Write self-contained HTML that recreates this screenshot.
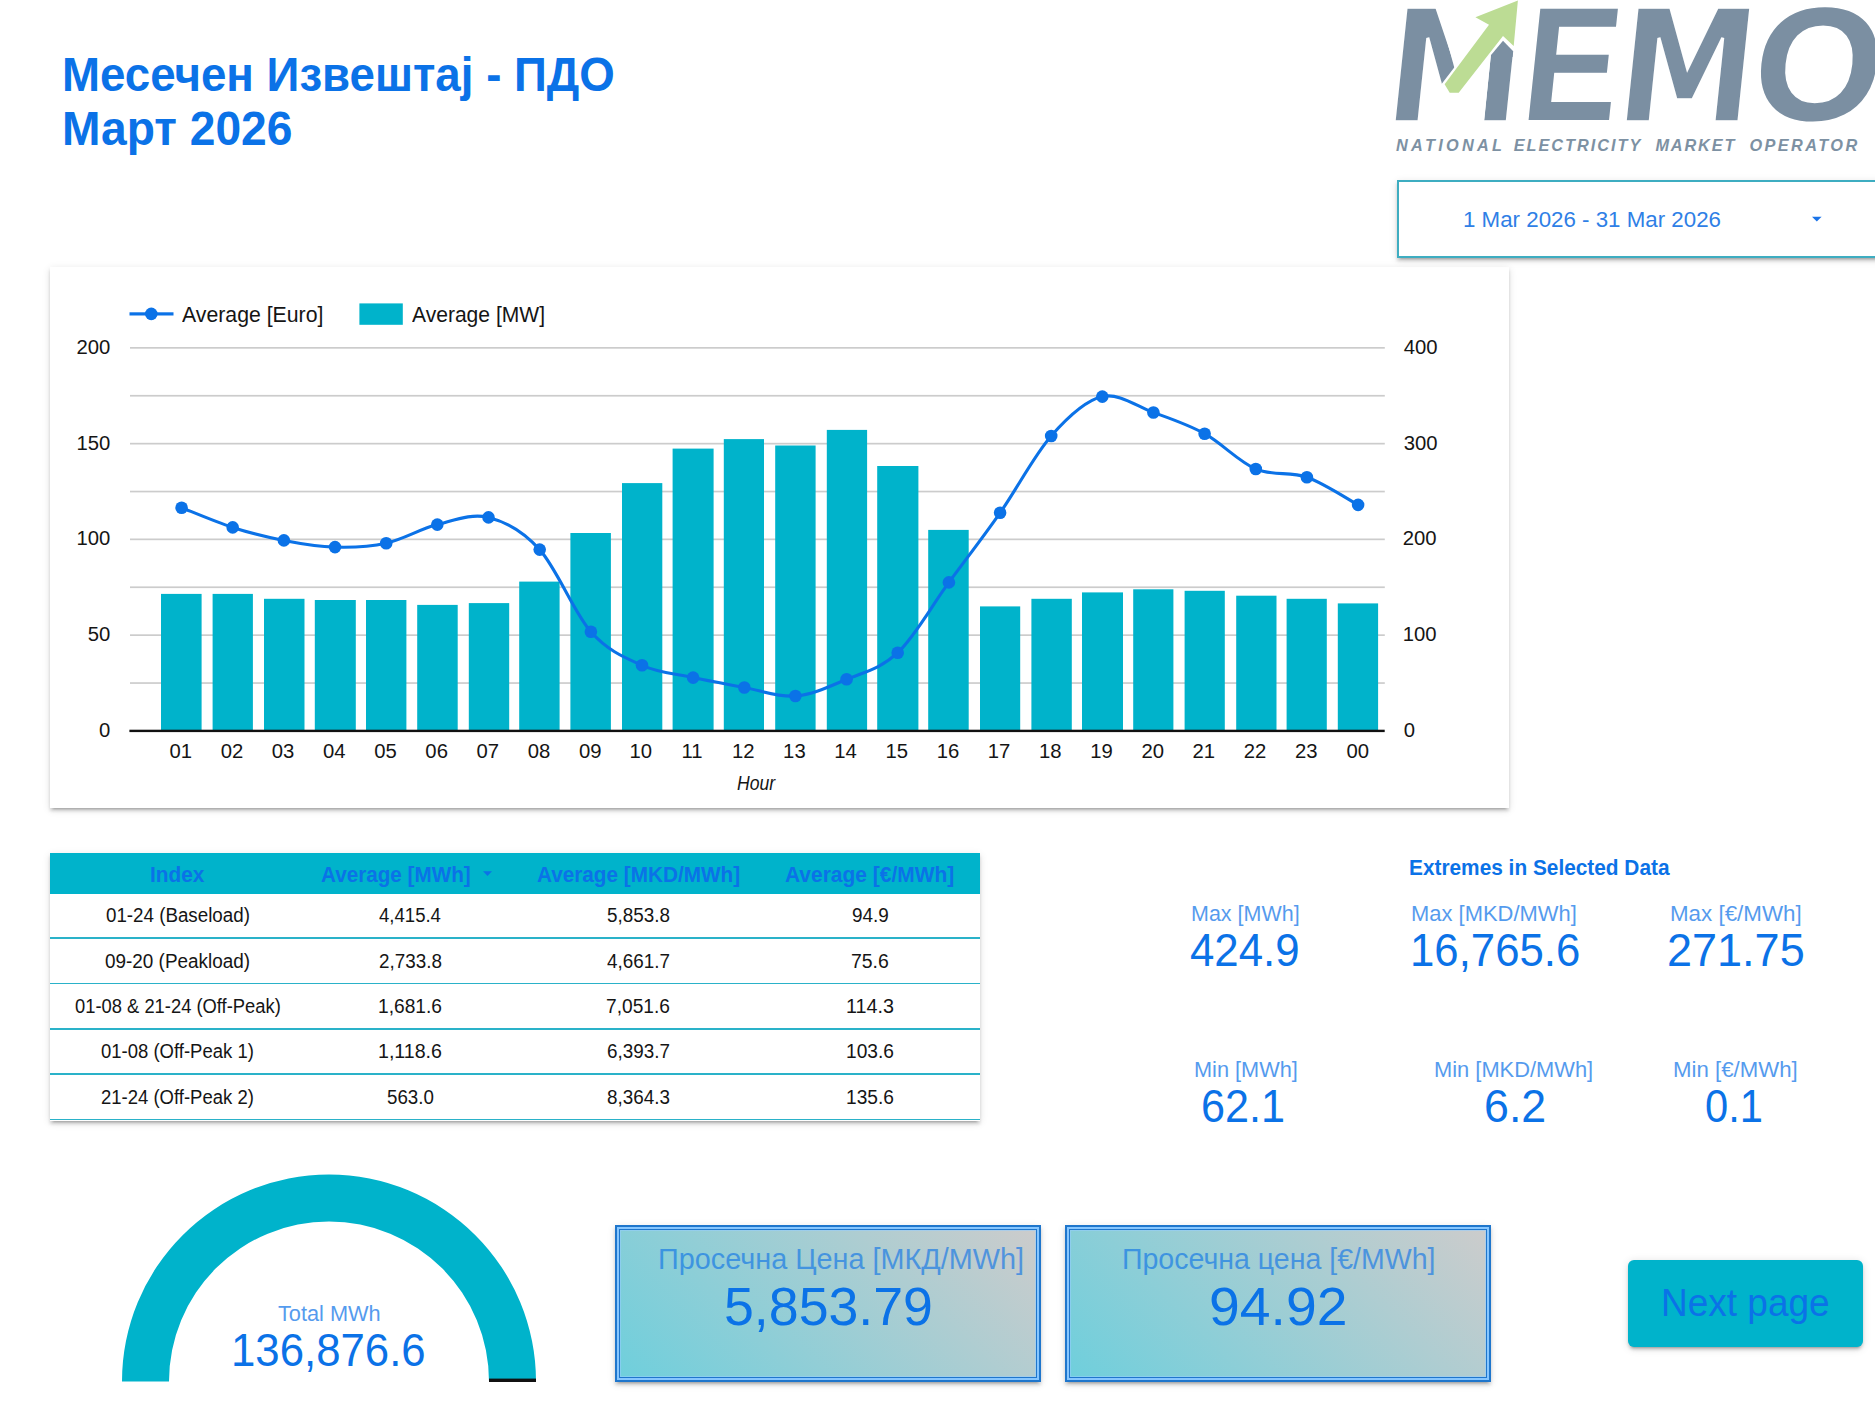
<!DOCTYPE html><html lang="mk"><head><meta charset="utf-8"><title>Месечен Извештај - ПДО</title><style>
html,body{margin:0;padding:0;background:#fff}
body{width:1875px;height:1407px;position:relative;overflow:hidden;font-family:"Liberation Sans",sans-serif}
.abs{position:absolute}
.t{position:absolute;white-space:nowrap;line-height:1;transform-origin:0 0}
.card{position:absolute;background:#fff;box-shadow:0 3px 3px 0 rgba(0,0,0,.14),0 4px 2px -3px rgba(0,0,0,.2),0 1.5px 8px 0 rgba(0,0,0,.12)}
.row{position:absolute;left:0;width:930px;height:1.7px;background:#2ab2c9}
.sc{position:absolute;box-sizing:border-box;border:2px solid #1f76cc;background:#86c6ff;box-shadow:0 3px 3px 0 rgba(0,0,0,.14),0 4px 2px -3px rgba(0,0,0,.2),0 1.5px 8px 0 rgba(0,0,0,.12)}
.sc i{position:absolute;left:1.8px;top:1.8px;right:1.8px;bottom:1.8px;border:1.2px solid #1f76cc;display:block;background:linear-gradient(45deg,#6fcfdc 0%,#cccccc 100%);box-shadow:inset 0 0 0 1px rgba(150,205,255,.55)}
</style></head><body>
<div class="card" style="left:49.7px;top:267px;width:1459.5px;height:541px"></div>
<svg class="abs" style="left:0;top:0" width="1875" height="1407" viewBox="0 0 1875 1407">
<rect x="130" y="682.2" width="1254.8" height="1.7" fill="#cccccc"/>
<rect x="130" y="634.3" width="1254.8" height="1.7" fill="#cccccc"/>
<rect x="130" y="586.4" width="1254.8" height="1.7" fill="#cccccc"/>
<rect x="130" y="538.5" width="1254.8" height="1.7" fill="#cccccc"/>
<rect x="130" y="490.7" width="1254.8" height="1.7" fill="#cccccc"/>
<rect x="130" y="442.8" width="1254.8" height="1.7" fill="#cccccc"/>
<rect x="130" y="394.9" width="1254.8" height="1.7" fill="#cccccc"/>
<rect x="130" y="347.0" width="1254.8" height="1.7" fill="#cccccc"/>
<rect x="161.0" y="593.9" width="40.6" height="137.0" fill="#00b3cb"/>
<rect x="212.6" y="593.9" width="40.3" height="137.0" fill="#00b3cb"/>
<rect x="264.0" y="598.8" width="40.5" height="132.1" fill="#00b3cb"/>
<rect x="314.8" y="600.0" width="41.0" height="130.9" fill="#00b3cb"/>
<rect x="366.0" y="600.0" width="40.4" height="130.9" fill="#00b3cb"/>
<rect x="417.2" y="604.9" width="40.5" height="126.0" fill="#00b3cb"/>
<rect x="468.8" y="603.1" width="40.4" height="127.8" fill="#00b3cb"/>
<rect x="519.2" y="581.6" width="40.4" height="149.3" fill="#00b3cb"/>
<rect x="570.4" y="533.0" width="40.5" height="197.9" fill="#00b3cb"/>
<rect x="622.0" y="483.1" width="40.3" height="247.8" fill="#00b3cb"/>
<rect x="672.6" y="448.6" width="41.0" height="282.3" fill="#00b3cb"/>
<rect x="723.8" y="439.1" width="40.2" height="291.8" fill="#00b3cb"/>
<rect x="775.2" y="445.5" width="40.4" height="285.4" fill="#00b3cb"/>
<rect x="826.8" y="429.9" width="40.3" height="301.0" fill="#00b3cb"/>
<rect x="877.2" y="466.0" width="41.2" height="264.9" fill="#00b3cb"/>
<rect x="928.2" y="529.9" width="40.5" height="201.0" fill="#00b3cb"/>
<rect x="980.0" y="606.4" width="40.2" height="124.5" fill="#00b3cb"/>
<rect x="1031.4" y="598.8" width="40.4" height="132.1" fill="#00b3cb"/>
<rect x="1082.0" y="592.4" width="41.0" height="138.5" fill="#00b3cb"/>
<rect x="1133.2" y="589.3" width="40.2" height="141.6" fill="#00b3cb"/>
<rect x="1184.6" y="590.8" width="40.2" height="140.1" fill="#00b3cb"/>
<rect x="1236.2" y="595.7" width="40.3" height="135.2" fill="#00b3cb"/>
<rect x="1286.6" y="598.8" width="40.2" height="132.1" fill="#00b3cb"/>
<rect x="1337.8" y="603.4" width="40.3" height="127.5" fill="#00b3cb"/>
<rect x="129.4" y="729.7" width="1255.3" height="2.4" fill="#111"/>
<path d="M181.6 507.7 C190.1 511.0 215.6 521.9 232.7 527.4 C249.8 532.9 266.8 537.1 283.9 540.4 C300.9 543.7 317.9 546.6 335.0 547.1 C352.1 547.6 369.1 547.0 386.2 543.2 C403.2 539.5 420.2 528.9 437.3 524.6 C454.4 520.3 471.4 513.2 488.5 517.4 C505.6 521.6 522.6 530.5 539.7 549.6 C556.8 568.7 573.9 612.5 590.9 631.8 C607.9 651.1 625.0 657.7 642.0 665.3 C659.0 672.9 676.1 673.9 693.1 677.6 C710.1 681.3 727.2 684.4 744.3 687.5 C761.3 690.6 778.3 697.4 795.4 696.0 C812.5 694.6 829.5 686.5 846.6 679.3 C863.7 672.1 880.7 668.9 897.7 652.7 C914.8 636.6 931.8 605.7 948.9 582.4 C966.0 559.1 983.0 537.2 1000.1 512.8 C1017.2 488.4 1034.2 455.4 1051.2 436.0 C1068.2 416.6 1085.3 400.5 1102.3 396.6 C1119.3 392.7 1136.4 406.3 1153.4 412.5 C1170.5 418.7 1187.5 424.3 1204.6 433.7 C1221.7 443.1 1238.8 461.8 1255.8 469.0 C1272.8 476.2 1289.9 471.2 1306.9 477.2 C1324.0 483.2 1349.6 500.3 1358.1 504.9" fill="none" stroke="#0b72e7" stroke-width="3.1" stroke-linejoin="round"/>
<circle cx="181.6" cy="507.7" r="6.3" fill="#0b72e7"/>
<circle cx="232.7" cy="527.4" r="6.3" fill="#0b72e7"/>
<circle cx="283.9" cy="540.4" r="6.3" fill="#0b72e7"/>
<circle cx="335.0" cy="547.1" r="6.3" fill="#0b72e7"/>
<circle cx="386.2" cy="543.2" r="6.3" fill="#0b72e7"/>
<circle cx="437.3" cy="524.6" r="6.3" fill="#0b72e7"/>
<circle cx="488.5" cy="517.4" r="6.3" fill="#0b72e7"/>
<circle cx="539.7" cy="549.6" r="6.3" fill="#0b72e7"/>
<circle cx="590.9" cy="631.8" r="6.3" fill="#0b72e7"/>
<circle cx="642.0" cy="665.3" r="6.3" fill="#0b72e7"/>
<circle cx="693.1" cy="677.6" r="6.3" fill="#0b72e7"/>
<circle cx="744.3" cy="687.5" r="6.3" fill="#0b72e7"/>
<circle cx="795.4" cy="696.0" r="6.3" fill="#0b72e7"/>
<circle cx="846.6" cy="679.3" r="6.3" fill="#0b72e7"/>
<circle cx="897.7" cy="652.7" r="6.3" fill="#0b72e7"/>
<circle cx="948.9" cy="582.4" r="6.3" fill="#0b72e7"/>
<circle cx="1000.1" cy="512.8" r="6.3" fill="#0b72e7"/>
<circle cx="1051.2" cy="436.0" r="6.3" fill="#0b72e7"/>
<circle cx="1102.3" cy="396.6" r="6.3" fill="#0b72e7"/>
<circle cx="1153.4" cy="412.5" r="6.3" fill="#0b72e7"/>
<circle cx="1204.6" cy="433.7" r="6.3" fill="#0b72e7"/>
<circle cx="1255.8" cy="469.0" r="6.3" fill="#0b72e7"/>
<circle cx="1306.9" cy="477.2" r="6.3" fill="#0b72e7"/>
<circle cx="1358.1" cy="504.9" r="6.3" fill="#0b72e7"/>
<rect x="129.5" y="312.3" width="44" height="3.2" fill="#0b72e7"/><circle cx="151.3" cy="313.9" r="6.3" fill="#0b72e7"/>
<rect x="359.4" y="303.4" width="43.4" height="21.4" fill="#00b3cb"/>
</svg>
<div class="abs" style="left:1396.7px;top:179.9px;width:500px;height:77.9px;box-sizing:border-box;border:2px solid #3eadc1;background:#fff;box-shadow:0 3px 3px 0 rgba(0,0,0,.14),0 4px 2px -3px rgba(0,0,0,.2),0 1.5px 8px 0 rgba(0,0,0,.12)"></div>
<svg class="abs" style="left:1811px;top:216px" width="12" height="7" viewBox="0 0 12 7"><polygon points="1,0.8 10.6,0.8 5.8,5.6" fill="#1a73e8"/></svg>
<svg class="abs" style="left:1385px;top:0" width="490" height="170" viewBox="1385 0 490 170">
<g id="logoletters" fill="#7b8fa2" font-family='"Liberation Sans", sans-serif' font-weight="bold">
<text transform="translate(1393.6 122.2) skewX(-6) scale(0.8845 1)" x="-14.00" y="0" font-size="157.75" font-family="'DejaVu Sans', sans-serif" stroke="#fff" stroke-width="3.2" vector-effect="non-scaling-stroke">M</text>
<text transform="translate(1527.9 119.7) skewX(-6) scale(0.8870 1)" x="-10.00" y="0" font-size="161.63" font-family="'Liberation Sans', sans-serif">E</text>
<text transform="translate(1624.8 122.2) skewX(-6) scale(0.8891 1)" x="-14.00" y="0" font-size="157.75" font-family="'DejaVu Sans', sans-serif" stroke="#fff" stroke-width="3.2" vector-effect="non-scaling-stroke">M</text>
<text transform="translate(1755.0 119.7) skewX(-6) scale(1.0265 1)" x="-6.00" y="0" font-size="161.63" font-family="'Liberation Sans', sans-serif">O</text>
</g>
<polygon points="1455,66.5 1442,83.5 1438,99 1468,99 1468,122 1484.1,122 1490.8,55 1514.8,51.5 1521,-2 1432,-2" fill="#fff"/>
<polygon points="1503,40.7 1513.2,51.3 1512.6,57 1491,57 1491.3,54.7" fill="#7b8fa2"/>
<polygon points="1517.9,0.4 1475.4,17.3 1489,24.7 1444.6,84.3 1449.7,92.7 1458.7,92.7 1503,36 1513.7,46" fill="#bcdc94"/>
</svg>
<div class="card" style="left:50px;top:853px;width:930px;height:268px">
<div class="abs" style="left:0;top:0;width:930px;height:40.7px;background:#00b3cb"></div>
<div class="row" style="top:84.4px"></div>
<div class="row" style="top:129.7px"></div>
<div class="row" style="top:175.0px"></div>
<div class="row" style="top:220.3px"></div>
<div class="row" style="top:265.6px"></div>
</div>
<svg class="abs" style="left:482px;top:870px" width="12" height="8" viewBox="0 0 12 8"><polygon points="1,1.3 10,1.3 5.5,6" fill="#0b72e7"/></svg>
<svg class="abs" style="left:0;top:1150px" width="700" height="257" viewBox="0 1150 700 257"><path d="M122.0 1381.5 A207 207 0 0 1 536.0 1381.5 L489.0 1381.5 A160 160 0 0 0 169.0 1381.5 Z" fill="#00b3cb"/><rect x="489" y="1378.6" width="47" height="3.4" fill="#111"/></svg>
<div class="sc" style="left:615px;top:1225px;width:426px;height:156.8px"><i></i></div>
<div class="sc" style="left:1065px;top:1225px;width:426px;height:156.8px"><i></i></div>
<div class="abs" style="left:1628px;top:1259.7px;width:234.7px;height:87.5px;border-radius:6px;background:#00b3cb;box-shadow:0 3px 3px 0 rgba(0,0,0,.14),0 4px 2px -3px rgba(0,0,0,.2),0 1.5px 8px 0 rgba(0,0,0,.12)"></div>
<div class="t" id="t0" style="left:62.37px;top:50.10px;font-size:48.40px;color:#0b72e7;font-weight:bold;transform:scaleX(0.9434)">Месечен Извештај - ПДО</div>
<div class="t" id="t1" style="left:62.34px;top:103.90px;font-size:48.40px;color:#0b72e7;font-weight:bold;transform:scaleX(0.9541)">Март 2026</div>
<div class="t" id="t2" style="left:1462.89px;top:208.50px;font-size:22.20px;color:#2f7fe6;transform:scaleX(1.0055)">1 Mar 2026 - 31 Mar 2026</div>
<div class="t" id="t3" style="left:181.50px;top:303.70px;font-size:22.20px;color:#151515;transform:scaleX(0.9581)">Average [Euro]</div>
<div class="t" id="t4" style="left:411.70px;top:303.70px;font-size:22.20px;color:#151515;transform:scaleX(0.9490)">Average [MW]</div>
<div class="t" id="t5" style="left:99.00px;top:719.80px;font-size:20.30px;color:#151515">0</div>
<div class="t" id="t6" style="left:87.72px;top:624.05px;font-size:20.30px;color:#151515">50</div>
<div class="t" id="t7" style="left:76.44px;top:528.30px;font-size:20.30px;color:#151515">100</div>
<div class="t" id="t8" style="left:76.44px;top:432.55px;font-size:20.30px;color:#151515">150</div>
<div class="t" id="t9" style="left:76.44px;top:336.80px;font-size:20.30px;color:#151515">200</div>
<div class="t" id="t10" style="left:1403.70px;top:719.80px;font-size:20.30px;color:#151515">0</div>
<div class="t" id="t11" style="left:1402.70px;top:624.05px;font-size:20.30px;color:#151515">100</div>
<div class="t" id="t12" style="left:1402.70px;top:528.30px;font-size:20.30px;color:#151515">200</div>
<div class="t" id="t13" style="left:1403.70px;top:432.55px;font-size:20.30px;color:#151515">300</div>
<div class="t" id="t14" style="left:1403.70px;top:336.80px;font-size:20.30px;color:#151515">400</div>
<div class="t" id="t15" style="left:169.46px;top:740.80px;font-size:20.30px;color:#151515">01</div>
<div class="t" id="t16" style="left:220.64px;top:740.80px;font-size:20.30px;color:#151515">02</div>
<div class="t" id="t17" style="left:271.82px;top:740.80px;font-size:20.30px;color:#151515">03</div>
<div class="t" id="t18" style="left:323.00px;top:740.80px;font-size:20.30px;color:#151515">04</div>
<div class="t" id="t19" style="left:374.18px;top:740.80px;font-size:20.30px;color:#151515">05</div>
<div class="t" id="t20" style="left:425.36px;top:740.80px;font-size:20.30px;color:#151515">06</div>
<div class="t" id="t21" style="left:476.54px;top:740.80px;font-size:20.30px;color:#151515">07</div>
<div class="t" id="t22" style="left:527.72px;top:740.80px;font-size:20.30px;color:#151515">08</div>
<div class="t" id="t23" style="left:578.90px;top:740.80px;font-size:20.30px;color:#151515">09</div>
<div class="t" id="t24" style="left:629.58px;top:740.80px;font-size:20.30px;color:#151515">10</div>
<div class="t" id="t25" style="left:681.51px;top:740.80px;font-size:20.30px;color:#151515">11</div>
<div class="t" id="t26" style="left:731.94px;top:740.80px;font-size:20.30px;color:#151515">12</div>
<div class="t" id="t27" style="left:783.12px;top:740.80px;font-size:20.30px;color:#151515">13</div>
<div class="t" id="t28" style="left:834.30px;top:740.80px;font-size:20.30px;color:#151515">14</div>
<div class="t" id="t29" style="left:885.48px;top:740.80px;font-size:20.30px;color:#151515">15</div>
<div class="t" id="t30" style="left:936.66px;top:740.80px;font-size:20.30px;color:#151515">16</div>
<div class="t" id="t31" style="left:987.84px;top:740.80px;font-size:20.30px;color:#151515">17</div>
<div class="t" id="t32" style="left:1039.02px;top:740.80px;font-size:20.30px;color:#151515">18</div>
<div class="t" id="t33" style="left:1090.20px;top:740.80px;font-size:20.30px;color:#151515">19</div>
<div class="t" id="t34" style="left:1141.38px;top:740.80px;font-size:20.30px;color:#151515">20</div>
<div class="t" id="t35" style="left:1192.56px;top:740.80px;font-size:20.30px;color:#151515">21</div>
<div class="t" id="t36" style="left:1243.74px;top:740.80px;font-size:20.30px;color:#151515">22</div>
<div class="t" id="t37" style="left:1294.92px;top:740.80px;font-size:20.30px;color:#151515">23</div>
<div class="t" id="t38" style="left:1346.60px;top:740.80px;font-size:20.30px;color:#151515">00</div>
<div class="t" id="t39" style="left:737.20px;top:772.80px;font-size:20.30px;color:#151515;font-style:italic;transform:scaleX(0.8672)">Hour</div>
<div class="t" id="t40" style="left:149.77px;top:864.20px;font-size:22.40px;color:#0b72e7;font-weight:bold;transform:scaleX(0.9306)">Index</div>
<div class="t" id="t41" style="left:321.40px;top:864.20px;font-size:22.40px;color:#0b72e7;font-weight:bold;transform:scaleX(0.9234)">Average [MWh]</div>
<div class="t" id="t42" style="left:536.50px;top:864.20px;font-size:22.40px;color:#0b72e7;font-weight:bold;transform:scaleX(0.9260)">Average [MKD/MWh]</div>
<div class="t" id="t43" style="left:785.30px;top:864.20px;font-size:22.40px;color:#0b72e7;font-weight:bold;transform:scaleX(0.9359)">Average [€/MWh]</div>
<div class="t" id="t44" style="left:106.00px;top:905.70px;font-size:19.50px;color:#151515;transform:scaleX(0.9618)">01-24 (Baseload)</div>
<div class="t" id="t45" style="left:379.25px;top:905.70px;font-size:19.50px;color:#151515;transform:scaleX(0.9522)">4,415.4</div>
<div class="t" id="t46" style="left:607.05px;top:905.70px;font-size:19.50px;color:#151515;transform:scaleX(0.9671)">5,853.8</div>
<div class="t" id="t47" style="left:851.90px;top:905.70px;font-size:19.50px;color:#151515;transform:scaleX(0.9701)">94.9</div>
<div class="t" id="t48" style="left:105.30px;top:951.70px;font-size:19.50px;color:#151515;transform:scaleX(0.9698)">09-20 (Peakload)</div>
<div class="t" id="t49" style="left:379.25px;top:951.70px;font-size:19.50px;color:#151515;transform:scaleX(0.9671)">2,733.8</div>
<div class="t" id="t50" style="left:607.05px;top:951.70px;font-size:19.50px;color:#151515;transform:scaleX(0.9671)">4,661.7</div>
<div class="t" id="t51" style="left:850.90px;top:951.70px;font-size:19.50px;color:#151515;transform:scaleX(0.9970)">75.6</div>
<div class="t" id="t52" style="left:74.60px;top:996.90px;font-size:19.50px;color:#151515;transform:scaleX(0.9413)">01-08 &amp; 21-24 (Off-Peak)</div>
<div class="t" id="t53" style="left:378.27px;top:996.90px;font-size:19.50px;color:#151515;transform:scaleX(0.9824)">1,681.6</div>
<div class="t" id="t54" style="left:606.07px;top:996.90px;font-size:19.50px;color:#151515;transform:scaleX(0.9824)">7,051.6</div>
<div class="t" id="t55" style="left:845.84px;top:996.90px;font-size:19.50px;color:#151515;transform:scaleX(1.0131)">114.3</div>
<div class="t" id="t56" style="left:101.40px;top:1041.90px;font-size:19.50px;color:#151515;transform:scaleX(0.9487)">01-08 (Off-Peak 1)</div>
<div class="t" id="t57" style="left:378.24px;top:1041.90px;font-size:19.50px;color:#151515;transform:scaleX(1.0054)">1,118.6</div>
<div class="t" id="t58" style="left:607.05px;top:1041.90px;font-size:19.50px;color:#151515;transform:scaleX(0.9671)">6,393.7</div>
<div class="t" id="t59" style="left:845.87px;top:1041.90px;font-size:19.50px;color:#151515;transform:scaleX(0.9818)">103.6</div>
<div class="t" id="t60" style="left:101.40px;top:1087.90px;font-size:19.50px;color:#151515;transform:scaleX(0.9487)">21-24 (Off-Peak 2)</div>
<div class="t" id="t61" style="left:386.80px;top:1087.90px;font-size:19.50px;color:#151515;transform:scaleX(0.9601)">563.0</div>
<div class="t" id="t62" style="left:607.05px;top:1087.90px;font-size:19.50px;color:#151515;transform:scaleX(0.9671)">8,364.3</div>
<div class="t" id="t63" style="left:845.87px;top:1087.90px;font-size:19.50px;color:#151515;transform:scaleX(0.9818)">135.6</div>
<div class="t" id="t64" style="left:1408.97px;top:857.20px;font-size:22.40px;color:#0b72e7;font-weight:bold;transform:scaleX(0.9304)">Extremes in Selected Data</div>
<div class="t" id="t65" style="left:1191.03px;top:902.70px;font-size:22.20px;color:#0b72e7;opacity:0.7;transform:scaleX(0.9681)">Max [MWh]</div>
<div class="t" id="t66" style="left:1190.03px;top:927.60px;font-size:45.30px;color:#0b72e7;transform:scaleX(0.9671)">424.9</div>
<div class="t" id="t67" style="left:1410.81px;top:902.70px;font-size:22.20px;color:#0b72e7;opacity:0.7;transform:scaleX(0.9887)">Max [MKD/MWh]</div>
<div class="t" id="t68" style="left:1410.10px;top:927.60px;font-size:45.30px;color:#0b72e7;transform:scaleX(0.9656)">16,765.6</div>
<div class="t" id="t69" style="left:1669.89px;top:902.70px;font-size:22.20px;color:#0b72e7;opacity:0.7;transform:scaleX(1.0077)">Max [€/MWh]</div>
<div class="t" id="t70" style="left:1667.01px;top:927.60px;font-size:45.30px;color:#0b72e7;transform:scaleX(0.9937)">271.75</div>
<div class="t" id="t71" style="left:1193.52px;top:1058.60px;font-size:22.20px;color:#0b72e7;opacity:0.7;transform:scaleX(0.9794)">Min [MWh]</div>
<div class="t" id="t72" style="left:1201.49px;top:1084.00px;font-size:45.30px;color:#0b72e7;transform:scaleX(0.9527)">62.1</div>
<div class="t" id="t73" style="left:1434.01px;top:1058.60px;font-size:22.20px;color:#0b72e7;opacity:0.7;transform:scaleX(0.9855)">Min [MKD/MWh]</div>
<div class="t" id="t74" style="left:1483.62px;top:1084.00px;font-size:45.30px;color:#0b72e7;transform:scaleX(0.9885)">6.2</div>
<div class="t" id="t75" style="left:1673.00px;top:1058.60px;font-size:22.20px;color:#0b72e7;opacity:0.7;transform:scaleX(1.0012)">Min [€/MWh]</div>
<div class="t" id="t76" style="left:1705.08px;top:1084.00px;font-size:45.30px;color:#0b72e7;transform:scaleX(0.9201)">0.1</div>
<div class="t" id="t77" style="left:277.60px;top:1303.40px;font-size:22.20px;color:#0b72e7;opacity:0.7;transform:scaleX(0.9801)">Total MWh</div>
<div class="t" id="t78" style="left:231.20px;top:1327.70px;font-size:45.30px;color:#0b72e7;transform:scaleX(0.9659)">136,876.6</div>
<div class="t" id="t79" style="left:657.78px;top:1244.80px;font-size:28.60px;color:#0b72e7;opacity:0.62;transform:scaleX(1.0079)">Просечна Цена [МКД/MWh]</div>
<div class="t" id="t80" style="left:724.00px;top:1280.30px;font-size:53.70px;color:#0b72e7">5,853.79</div>
<div class="t" id="t81" style="left:1121.50px;top:1244.80px;font-size:28.60px;color:#0b72e7;opacity:0.62;transform:scaleX(0.9976)">Просечна цена [€/MWh]</div>
<div class="t" id="t82" style="left:1209.44px;top:1280.30px;font-size:53.70px;color:#0b72e7;transform:scaleX(1.0307)">94.92</div>
<div class="t" id="t83" style="left:1661.09px;top:1284.00px;font-size:38.20px;color:#0b72e7;transform:scaleX(0.9691)">Next page</div>
<div class="t" id="t84" style="left:1396.00px;top:136.60px;font-size:16.30px;color:#7d91a3;font-weight:bold;font-style:italic;letter-spacing:3.292px">NATIONAL</div>
<div class="t" id="t85" style="left:1513.70px;top:136.60px;font-size:16.30px;color:#7d91a3;font-weight:bold;font-style:italic;letter-spacing:1.983px">ELECTRICITY</div>
<div class="t" id="t86" style="left:1655.40px;top:136.60px;font-size:16.30px;color:#7d91a3;font-weight:bold;font-style:italic;letter-spacing:1.861px">MARKET</div>
<div class="t" id="t87" style="left:1749.50px;top:136.60px;font-size:16.30px;color:#7d91a3;font-weight:bold;font-style:italic;letter-spacing:2.414px">OPERATOR</div>
</body></html>
